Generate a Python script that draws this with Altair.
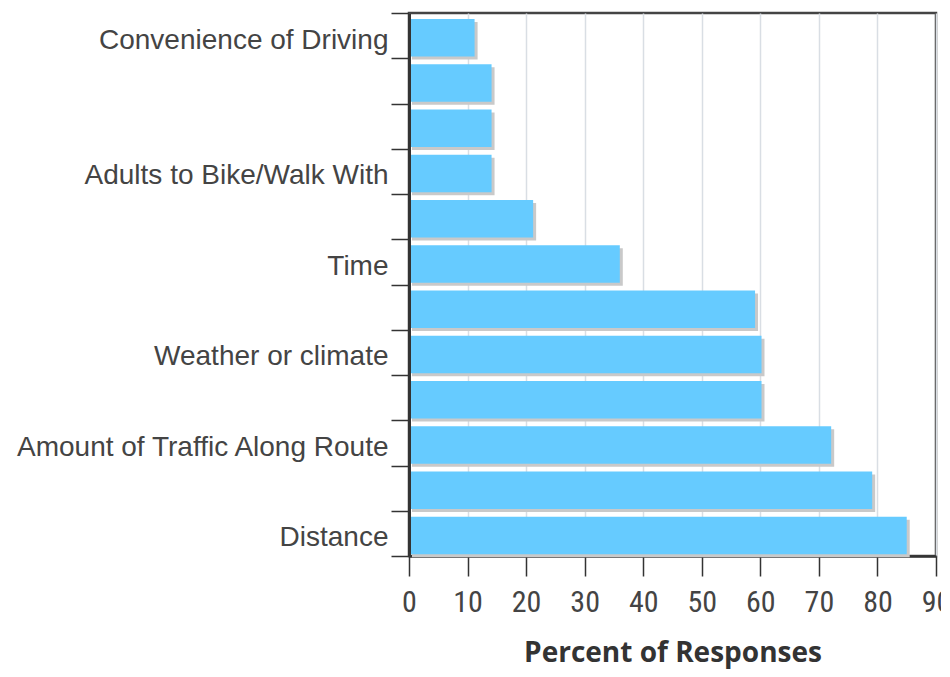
import json
import altair as alt
import pandas as pd

# Categories top -> bottom (only some labels are visible in the reference)
labels = ["Convenience of Driving", "", "", "Adults to Bike/Walk With", "", "Time", "",
          "Weather or climate", "", "Amount of Traffic Along Route", "", "Distance"]
percent = [11.2, 14.1, 14.1, 14.1, 21.2, 36.0, 59.1, 60.2, 60.2, 72.1, 79.1, 85.0]
x_ticks = [0, 10, 20, 30, 40, 50, 60, 70, 80, 90]

df = pd.DataFrame({"idx": list(range(len(labels))), "label": labels, "percent": percent})

label_expr = json.dumps(labels) + "[datum.value]"

y_axis = alt.Axis(
    title=None,
    tickBand="extent",
    tickSize=18,
    tickColor="#333",
    tickWidth=1.5,
    domainColor="#333",
    domainWidth=3,
    labelFont="Liberation Sans",
    labelFontSize=28,
    labelColor="#444",
    labelPadding=3,
    labelBaseline="alphabetic",
    labelOffset=12.5,
    labelLimit=500,
    labelExpr=label_expr,
    grid=False,
    zindex=1,
)

x_axis = alt.Axis(
    values=x_ticks,
    title="Percent of Responses",
    grid=True,
    gridColor="#d9dee4",
    gridWidth=1.5,
    tickSize=20,
    tickColor="#333",
    tickWidth=1.5,
    domainColor="#333",
    domainWidth=2.5,
    labelFont="Liberation Sans Narrow, Roboto Condensed, Liberation Sans",
    labelFontSize=30,
    labelColor="#444",
    labelBaseline="alphabetic",
    labelPadding=35,
    labelFlush=False,
    labelOverlap=False,
    titleFont="Open Sans",
    titleFontWeight="bold",
    titleFontSize=28,
    titleColor="#333",
    titleBaseline="alphabetic",
    titleY=105,
)

y_enc = alt.Y("idx:O", sort="ascending",
              scale=alt.Scale(paddingInner=0, paddingOuter=0), axis=y_axis)
x_enc = alt.X("percent:Q", scale=alt.Scale(domain=[0, 90], nice=False), axis=x_axis)

shadow = alt.Chart(df).mark_bar(
    color="#c9c9c9", height={"band": 0.83}, xOffset=3, x2Offset=3, yOffset=5.2
).encode(x=x_enc, y=y_enc)

bars = alt.Chart(df).mark_bar(
    color="#66CBFF", height={"band": 0.83}, yOffset=2.2
).encode(x=x_enc, y=y_enc)

chart = alt.layer(shadow, bars).properties(
    width=527,
    height=543,
    background="white",
    autosize=alt.AutoSizeParams(type="none"),
    padding={"left": 401, "top": 5, "right": 5, "bottom": 113},
).configure_view(stroke="#444", strokeWidth=2.5)

chart.save("out.html", embed_options={"renderer": "svg", "actions": False})
